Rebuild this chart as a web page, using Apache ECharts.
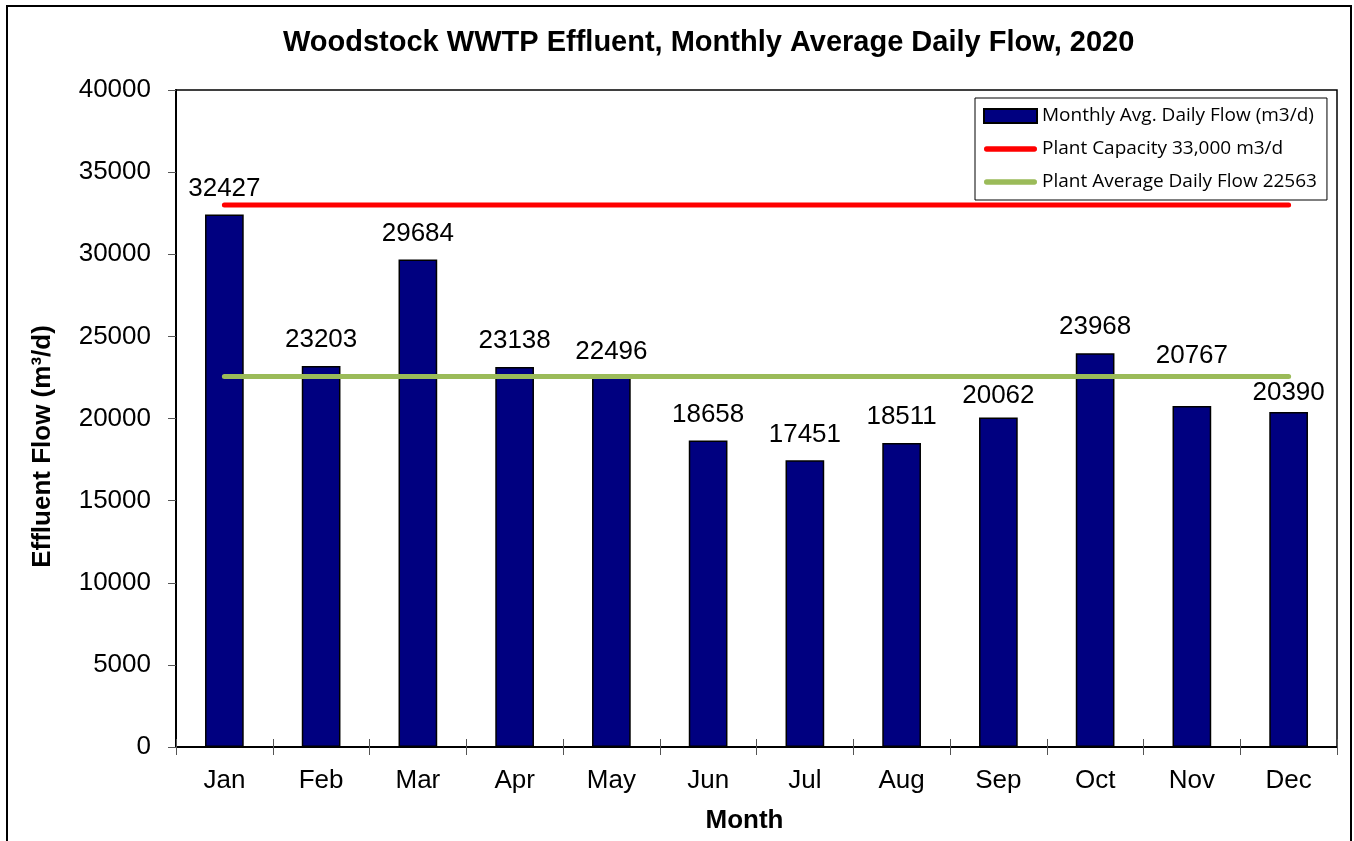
<!DOCTYPE html>
<html>
<head>
<meta charset="utf-8">
<title>Woodstock WWTP Effluent, Monthly Average Daily Flow, 2020</title>
<script src="https://cdn.jsdelivr.net/npm/echarts@6/dist/echarts.min.js"></script>
<style>
  html, body { margin: 0; padding: 0; background: #fff; }
  #chart { width: 1354px; height: 841px; }
</style>
</head>
<body>
<div id="chart"></div>
<script>
// Monthly data, 2020
const months = ['Jan', 'Feb', 'Mar', 'Apr', 'May', 'Jun', 'Jul', 'Aug', 'Sep', 'Oct', 'Nov', 'Dec'];
const monthlyAvgDailyFlow = [32427, 23203, 29684, 23138, 22496, 18658, 17451, 18511, 20062, 23968, 20767, 20390];
const plantCapacity = 33000;
const plantAverageDailyFlow = 22563;

const barName = 'Monthly Avg. Daily Flow (m3/d)';
const capacityName = 'Plant Capacity 33,000 m3/d';
const averageName = 'Plant Average Daily Flow 22563';

const capacityLine = months.map(() => plantCapacity);
const averageLine = months.map(() => plantAverageDailyFlow);

// A few value labels are nudged vertically (px, negative = up) to keep them clear of the lines
const labelNudge = { Sep: 4, Nov: -24, Dec: 7 };

const sans = '"Liberation Sans", Arial, sans-serif';
// thin bar with rounded ends, used as the legend swatch for the two lines
const lineIcon = 'path://M5,0 L95,0 A5,5 0 0 1 95,10 L5,10 A5,5 0 0 1 5,0 Z';

const barData = monthlyAvgDailyFlow.map((v, i) => {
  const dy = labelNudge[months[i]];
  return dy ? { value: v, label: { offset: [0, dy] } } : v;
});

const chart = echarts.init(document.getElementById('chart'), null, { renderer: 'canvas' });

chart.setOption({
  backgroundColor: '#ffffff',
  animation: false,
  title: {
    text: 'Woodstock WWTP Effluent, Monthly Average Daily Flow, 2020',
    left: 283,
    top: 28,
    padding: 0,
    textStyle: { fontFamily: sans, fontSize: 29, fontWeight: 'bold', color: '#000' }
  },
  graphic: [{
    type: 'rect',
    shape: { x: 7, y: 6, width: 1344, height: 900 },
    style: { fill: 'none', stroke: '#000', lineWidth: 2 },
    silent: true,
    z: 100
  }],
  legend: {
    orient: 'vertical',
    left: 975,
    top: 98,
    padding: [8, 10, 8, 8],
    itemGap: 13,
    itemWidth: 53,
    itemHeight: 14,
    backgroundColor: '#fff',
    borderColor: '#000',
    borderWidth: 1,
    borderRadius: 0,
    textStyle: { fontFamily: '"Open Sans", sans-serif', fontSize: 19, color: '#000', lineHeight: 20 },
    data: [
      { name: barName, icon: 'rect', itemStyle: { color: '#000080', borderColor: '#000', borderWidth: 2 } },
      { name: capacityName, icon: lineIcon, itemStyle: { color: '#ff0000' } },
      { name: averageName, icon: lineIcon, itemStyle: { color: '#9bbb59' } }
    ]
  },
  grid: { left: 176, right: 17, top: 90, bottom: 94, show: true, borderColor: '#000', borderWidth: 1.5, containLabel: false },
  xAxis: [
    {
      type: 'category',
      data: months,
      position: 'bottom',
      name: 'Month',
      nameLocation: 'middle',
      nameGap: 61,
      nameTextStyle: { fontFamily: sans, fontSize: 26, fontWeight: 'bold', color: '#000', padding: [0, 24, 0, 0] },
      axisLine: { lineStyle: { color: '#000', width: 2 } },
      axisTick: { show: true, alignWithLabel: false, length: 8, lineStyle: { color: '#555', width: 1 } },
      axisLabel: { fontFamily: sans, fontSize: 26, color: '#000', margin: 21 },
      splitLine: { show: false }
    },
    {
      // inner half of the crossing category ticks
      type: 'category',
      data: months,
      position: 'bottom',
      offset: 0,
      axisLine: { show: false },
      axisTick: { show: true, inside: true, length: 8, lineStyle: { color: '#555', width: 1 } },
      axisLabel: { show: false },
      splitLine: { show: false }
    }
  ],
  yAxis: {
    type: 'value',
    min: 0,
    max: 40000,
    interval: 5000,
    name: 'Effluent Flow (m³/d)',
    nameLocation: 'middle',
    nameGap: 120,
    nameTextStyle: { fontFamily: sans, fontSize: 26, fontWeight: 'bold', color: '#000', padding: [0, 56, 0, 0] },
    axisLine: { show: true, lineStyle: { color: '#000', width: 2 } },
    axisTick: { show: true, length: 8, lineStyle: { color: '#555', width: 1 } },
    axisLabel: { fontFamily: sans, fontSize: 26, color: '#000', margin: 25, formatter: (v) => String(v) },
    splitLine: { show: false }
  },
  series: [
    {
      name: barName,
      type: 'bar',
      data: barData,
      barWidth: '40%',
      itemStyle: { color: '#000080', borderColor: '#000', borderWidth: 1.5 },
      label: {
        show: true,
        position: 'top',
        distance: 13,
        fontFamily: sans,
        fontSize: 26,
        color: '#000'
      },
      z: 2
    },
    {
      name: capacityName,
      type: 'line',
      data: capacityLine,
      symbol: 'none',
      lineStyle: { color: '#ff0000', width: 5, cap: 'round' },
      itemStyle: { color: '#ff0000' },
      z: 3
    },
    {
      name: averageName,
      type: 'line',
      data: averageLine,
      symbol: 'none',
      lineStyle: { color: '#9bbb59', width: 5, cap: 'round' },
      itemStyle: { color: '#9bbb59' },
      z: 3
    }
  ]
});
</script>
</body>
</html>
